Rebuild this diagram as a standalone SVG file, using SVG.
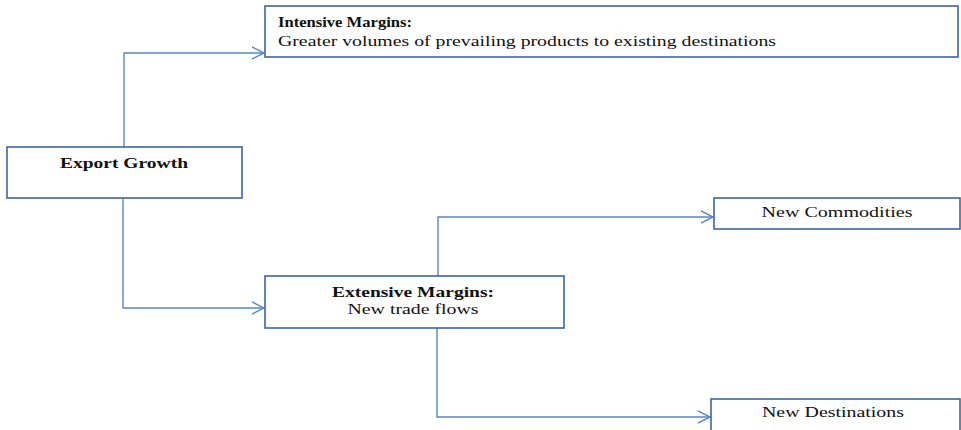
<svg xmlns="http://www.w3.org/2000/svg" width="961" height="430" viewBox="0 0 961 430">
  <defs>
    <marker id="openArrow" markerWidth="14" markerHeight="14" refX="12" refY="7" orient="auto" markerUnits="userSpaceOnUse">
      <path d="M0,1 L12,7 L0,13" fill="none" stroke="#5b87c5" stroke-width="1.4"/>
    </marker>
    <style>
      .box { fill: #ffffff; stroke: #3c65a4; stroke-width: 1.6; }
      .conn { fill: none; stroke: #5b87c5; stroke-width: 1.4; marker-end: url(#openArrow); }
      .lbl { font-size: 15px; fill: #111111; }
      .b { font-weight: bold; }
    </style>
  </defs>
  <rect width="961" height="430" fill="#ffffff"/>

  <g id="connectors">
    <path class="conn" d="M124,147 V53 H264"/>
    <path class="conn" d="M123,198 V308 H264"/>
    <path class="conn" d="M438,276 V217 H713"/>
    <path class="conn" d="M437,328 V417 H710"/>
  </g>

  <g font-family="'Liberation Serif', 'DejaVu Serif', serif">
    <g id="export-growth">
      <rect class="box" x="7" y="147" width="235" height="51"/>
      <text class="lbl b" x="124" y="168" text-anchor="middle" textLength="128" lengthAdjust="spacingAndGlyphs">Export Growth</text>
    </g>

    <g id="intensive-margins">
      <rect class="box" x="265" y="6" width="693" height="51"/>
      <text class="lbl b" x="278" y="27" textLength="134" lengthAdjust="spacingAndGlyphs">Intensive Margins:</text>
      <text class="lbl" x="278" y="46" textLength="498" lengthAdjust="spacingAndGlyphs">Greater volumes of prevailing products to existing destinations</text>
    </g>

    <g id="extensive-margins">
      <rect class="box" x="265" y="276" width="299" height="52"/>
      <text class="lbl b" x="413" y="297" text-anchor="middle" textLength="162" lengthAdjust="spacingAndGlyphs">Extensive Margins:</text>
      <text class="lbl" x="413" y="314" text-anchor="middle" textLength="131" lengthAdjust="spacingAndGlyphs">New trade flows</text>
    </g>

    <g id="new-commodities">
      <rect class="box" x="714" y="198" width="246" height="31"/>
      <text class="lbl" x="837" y="217" text-anchor="middle" textLength="151" lengthAdjust="spacingAndGlyphs">New Commodities</text>
    </g>

    <g id="new-destinations">
      <rect class="box" x="711" y="399" width="249" height="40"/>
      <text class="lbl" x="833" y="417" text-anchor="middle" textLength="142" lengthAdjust="spacingAndGlyphs">New Destinations</text>
    </g>
  </g>
</svg>
